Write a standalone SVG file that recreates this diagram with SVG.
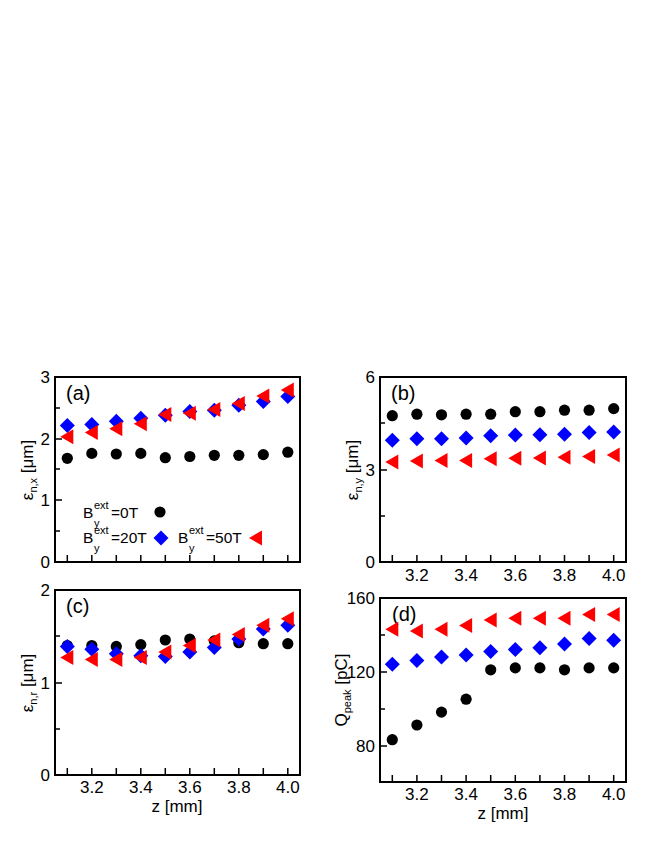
<svg xmlns="http://www.w3.org/2000/svg" width="664" height="860" viewBox="0 0 664 860">
<style>
text{font-family:"Liberation Sans",Arial,sans-serif;fill:#000}
.t{font-size:17px}
.l{font-size:15.5px}
.r{text-anchor:end}
.m{text-anchor:middle}
.f{fill:none;stroke:#000;stroke-width:2}
.k{stroke:#000;stroke-width:1.5}
.s{font-size:11px}
.p{font-size:20px}
</style>
<defs>
<circle id="C" r="5.6" fill="#000"/>
<polygon id="D" points="0,-7.5 7.5,0 0,7.5 -7.5,0" fill="#0000ff"/>
<polygon id="T" points="-7,0 6,-7.5 6,7.5" fill="#ff0000"/>
</defs>
<rect width="664" height="860" fill="#fff"/>
<g id="panel-a">
<rect class="f" x="55" y="377" width="245" height="185"/>
<path class="k" d="M55,377h7M55,408h5M55,439h7M55,469h5M55,500h7M55,531h5M67.3,562v-7M91.8,562v-7M116.3,562v-7M140.8,562v-7M165.3,562v-7M189.8,562v-7M214.3,562v-7M238.8,562v-7M263.3,562v-7M287.8,562v-7"/>
<text class="t r" x="50" y="383">3</text><text class="t r" x="50" y="445">2</text><text class="t r" x="50" y="506">1</text><text class="t r" x="50" y="568">0</text>
<text x="66" y="400" class="p">(a)</text>
<text transform="translate(33,470) rotate(-90)" class="t m">ε<tspan class="s" dy="4">n,x</tspan><tspan dy="-4"> [μm]</tspan></text>
<g><use href="#C" x="67.3" y="458.3"/><use href="#C" x="91.8" y="453.4"/><use href="#C" x="116.3" y="454"/><use href="#C" x="140.8" y="453.4"/><use href="#C" x="165.3" y="457.7"/><use href="#C" x="189.8" y="456.5"/><use href="#C" x="214.3" y="455.3"/><use href="#C" x="238.8" y="455.3"/><use href="#C" x="263.3" y="454.6"/><use href="#C" x="287.8" y="452.2"/></g>
<g><use href="#D" x="67.3" y="425.6"/><use href="#D" x="91.8" y="424.4"/><use href="#D" x="116.3" y="421.3"/><use href="#D" x="140.8" y="418.2"/><use href="#D" x="165.3" y="415.2"/><use href="#D" x="189.8" y="411.5"/><use href="#D" x="214.3" y="410.2"/><use href="#D" x="238.8" y="405.3"/><use href="#D" x="263.3" y="401.6"/><use href="#D" x="287.8" y="396.6"/></g>
<g><use href="#T" x="67.3" y="436.7"/><use href="#T" x="91.8" y="432.4"/><use href="#T" x="116.3" y="428.7"/><use href="#T" x="140.8" y="423.8"/><use href="#T" x="165.3" y="414.5"/><use href="#T" x="189.8" y="413.3"/><use href="#T" x="214.3" y="409.6"/><use href="#T" x="238.8" y="403.4"/><use href="#T" x="263.3" y="396"/><use href="#T" x="287.8" y="389.9"/></g>
<text class="l" x="83" y="518">B</text><text class="s" x="94" y="509">ext</text><text class="s" x="94" y="527">y</text><text class="l" x="111" y="518">=0T</text>
<use href="#C" x="160" y="512"/>
<text class="l" x="83" y="543">B</text><text class="s" x="94" y="534">ext</text><text class="s" x="94" y="552">y</text><text class="l" x="111" y="543">=20T</text>
<use href="#D" x="161" y="538"/>
<text class="l" x="178" y="543">B</text><text class="s" x="189" y="534">ext</text><text class="s" x="189" y="552">y</text><text class="l" x="206" y="543">=50T</text>
<use href="#T" x="256" y="538"/>
</g>
<g id="panel-b">
<rect class="f" x="380" y="377" width="246" height="185"/>
<path class="k" d="M380,377h7M380,423h5M380,470h7M380,516h5M392.3,562v-7M416.9,562v-7M441.5,562v-7M466.1,562v-7M490.7,562v-7M515.3,562v-7M539.9,562v-7M564.5,562v-7M589.1,562v-7M613.7,562v-7"/>
<text class="t r" x="375" y="383">6</text><text class="t r" x="375" y="476">3</text><text class="t r" x="375" y="568">0</text>
<text x="391" y="400" class="p">(b)</text>
<text transform="translate(358,470) rotate(-90)" class="t m">ε<tspan class="s" dy="4">n,y</tspan><tspan dy="-4"> [μm]</tspan></text>
<text class="t m" x="416.9" y="581">3.2</text><text class="t m" x="466.1" y="581">3.4</text><text class="t m" x="515.3" y="581">3.6</text><text class="t m" x="564.5" y="581">3.8</text><text class="t m" x="613.7" y="581">4.0</text>
<g><use href="#C" x="392.3" y="415.7"/><use href="#C" x="416.9" y="414.2"/><use href="#C" x="441.5" y="414.8"/><use href="#C" x="466.1" y="414.2"/><use href="#C" x="490.7" y="414.2"/><use href="#C" x="515.3" y="411.7"/><use href="#C" x="539.9" y="411.7"/><use href="#C" x="564.5" y="410.2"/><use href="#C" x="589.1" y="410.2"/><use href="#C" x="613.7" y="408.6"/></g>
<g><use href="#D" x="392.3" y="440.3"/><use href="#D" x="416.9" y="438.8"/><use href="#D" x="441.5" y="438.8"/><use href="#D" x="466.1" y="437.9"/><use href="#D" x="490.7" y="435.7"/><use href="#D" x="515.3" y="435.1"/><use href="#D" x="539.9" y="434.8"/><use href="#D" x="564.5" y="434.2"/><use href="#D" x="589.1" y="432.6"/><use href="#D" x="613.7" y="432"/></g>
<g><use href="#T" x="392.3" y="461.9"/><use href="#T" x="416.9" y="461"/><use href="#T" x="441.5" y="460.4"/><use href="#T" x="466.1" y="460.4"/><use href="#T" x="490.7" y="458.8"/><use href="#T" x="515.3" y="458.2"/><use href="#T" x="539.9" y="457.9"/><use href="#T" x="564.5" y="457.3"/><use href="#T" x="589.1" y="456.4"/><use href="#T" x="613.7" y="455.1"/></g>
</g>
<g id="panel-c">
<rect class="f" x="55" y="590" width="245" height="185"/>
<path class="k" d="M55,590h7M55,636h5M55,683h7M55,729h5M67.3,775v-7M91.8,775v-7M116.3,775v-7M140.8,775v-7M165.3,775v-7M189.8,775v-7M214.3,775v-7M238.8,775v-7M263.3,775v-7M287.8,775v-7"/>
<text class="t r" x="50" y="596">2</text><text class="t r" x="50" y="689">1</text><text class="t r" x="50" y="781">0</text>
<text x="66" y="613" class="p">(c)</text>
<text transform="translate(33,683) rotate(-90)" class="t m">ε<tspan class="s" dy="4">n,r</tspan><tspan dy="-4"> [μm]</tspan></text>
<text class="t m" x="91.8" y="793">3.2</text><text class="t m" x="140.8" y="793">3.4</text><text class="t m" x="189.8" y="793">3.6</text><text class="t m" x="238.8" y="793">3.8</text><text class="t m" x="287.8" y="793">4.0</text>
<text class="t m" x="177" y="812">z [mm]</text>
<g><use href="#C" x="67.3" y="645.5"/><use href="#C" x="91.8" y="645.5"/><use href="#C" x="116.3" y="646.4"/><use href="#C" x="140.8" y="644.6"/><use href="#C" x="165.3" y="640"/><use href="#C" x="189.8" y="639"/><use href="#C" x="214.3" y="640.9"/><use href="#C" x="238.8" y="642.7"/><use href="#C" x="263.3" y="643.7"/><use href="#C" x="287.8" y="643.7"/></g>
<g><use href="#D" x="67.3" y="646.4"/><use href="#D" x="91.8" y="649.2"/><use href="#D" x="116.3" y="653.8"/><use href="#D" x="140.8" y="655.7"/><use href="#D" x="165.3" y="656.6"/><use href="#D" x="189.8" y="652"/><use href="#D" x="214.3" y="647.4"/><use href="#D" x="238.8" y="639"/><use href="#D" x="263.3" y="628.9"/><use href="#D" x="287.8" y="625.2"/></g>
<g><use href="#T" x="67.3" y="657.5"/><use href="#T" x="91.8" y="659.4"/><use href="#T" x="116.3" y="659.4"/><use href="#T" x="140.8" y="657.5"/><use href="#T" x="165.3" y="652"/><use href="#T" x="189.8" y="645.5"/><use href="#T" x="214.3" y="640"/><use href="#T" x="238.8" y="634.4"/><use href="#T" x="263.3" y="625.2"/><use href="#T" x="287.8" y="618.7"/></g>
</g>
<g id="panel-d">
<rect class="f" x="380" y="598" width="246" height="184"/>
<path class="k" d="M380,598h7M380,635h5M380,672h7M380,709h5M380,746h7M392.3,782v-7M416.9,782v-7M441.5,782v-7M466.1,782v-7M490.7,782v-7M515.3,782v-7M539.9,782v-7M564.5,782v-7M589.1,782v-7M613.7,782v-7"/>
<text class="t r" x="375" y="604">160</text><text class="t r" x="375" y="678">120</text><text class="t r" x="375" y="752">80</text>
<text x="392" y="621" class="p">(d)</text>
<text transform="translate(347,690) rotate(-90)" class="t m">Q<tspan class="s" dy="4">peak</tspan><tspan dy="-4"> [pC]</tspan></text>
<text class="t m" x="416.9" y="800">3.2</text><text class="t m" x="466.1" y="800">3.4</text><text class="t m" x="515.3" y="800">3.6</text><text class="t m" x="564.5" y="800">3.8</text><text class="t m" x="613.7" y="800">4.0</text>
<text class="t m" x="503" y="819">z [mm]</text>
<g><use href="#C" x="392.3" y="739.7"/><use href="#C" x="416.9" y="725"/><use href="#C" x="441.5" y="712.1"/><use href="#C" x="466.1" y="699.2"/><use href="#C" x="490.7" y="669.8"/><use href="#C" x="515.3" y="667.9"/><use href="#C" x="539.9" y="667.9"/><use href="#C" x="564.5" y="669.8"/><use href="#C" x="589.1" y="667.9"/><use href="#C" x="613.7" y="667.9"/></g>
<g><use href="#D" x="392.3" y="664.2"/><use href="#D" x="416.9" y="660.6"/><use href="#D" x="441.5" y="656.9"/><use href="#D" x="466.1" y="655"/><use href="#D" x="490.7" y="651.4"/><use href="#D" x="515.3" y="649.5"/><use href="#D" x="539.9" y="647.7"/><use href="#D" x="564.5" y="644"/><use href="#D" x="589.1" y="638.5"/><use href="#D" x="613.7" y="640.3"/></g>
<g><use href="#T" x="392.3" y="629.3"/><use href="#T" x="416.9" y="631.1"/><use href="#T" x="441.5" y="629.3"/><use href="#T" x="466.1" y="625.6"/><use href="#T" x="490.7" y="619.9"/><use href="#T" x="515.3" y="618.2"/><use href="#T" x="539.9" y="618.2"/><use href="#T" x="564.5" y="618.2"/><use href="#T" x="589.1" y="614.4"/><use href="#T" x="613.7" y="614.4"/></g>
</g>
<g id="connectors"/>
</svg>
